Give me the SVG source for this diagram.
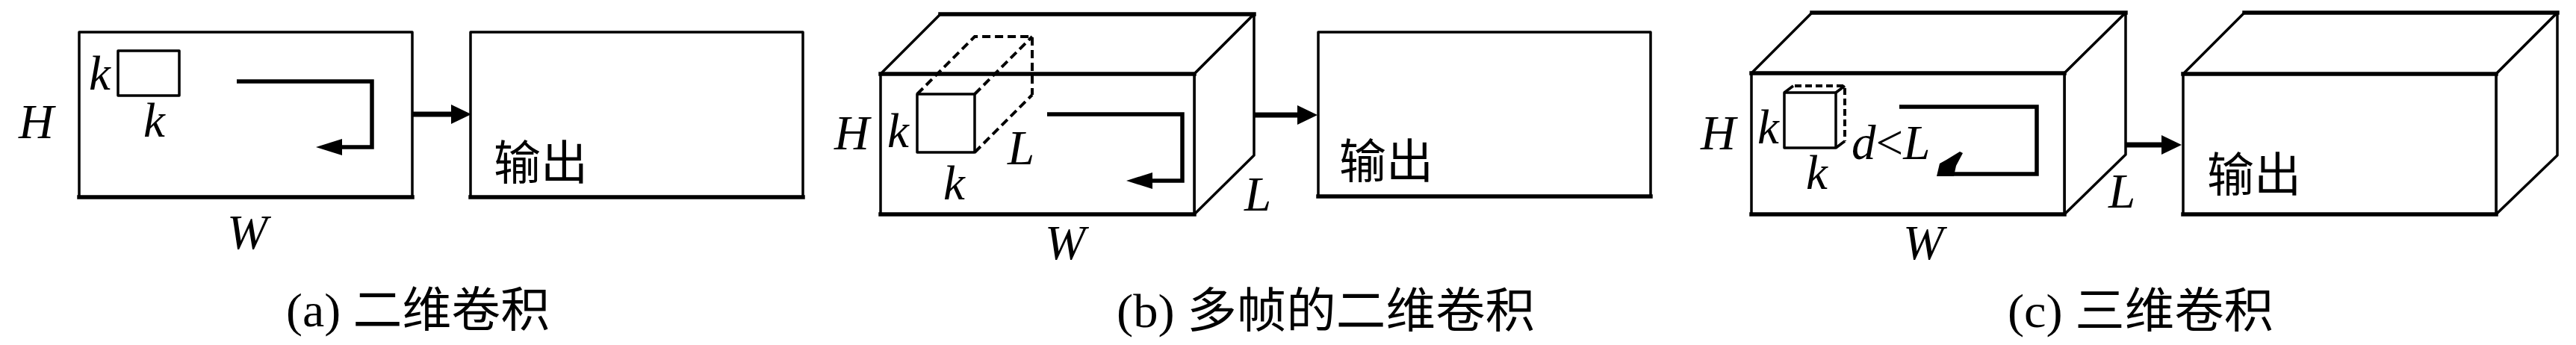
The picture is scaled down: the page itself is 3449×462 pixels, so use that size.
<svg xmlns="http://www.w3.org/2000/svg" width="3449" height="462" viewBox="0 0 3449 462">
<style>
.face{fill:#fff;stroke:#000;stroke-width:3.5;stroke-linejoin:round}
.ln{fill:none;stroke:#000;stroke-width:3.5;stroke-linecap:butt}
.thick{fill:none;stroke:#000;stroke-width:5.5;stroke-linecap:square}
.dash{fill:none;stroke:#000;stroke-width:4;stroke-dasharray:11 6}
.scan{fill:none;stroke:#000;stroke-width:5.5;stroke-linejoin:miter}
.conn{fill:none;stroke:#000;stroke-width:7}
.var{font-family:"Liberation Serif","Times New Roman",serif;font-style:italic;font-size:65px;fill:#000}
.up{font-family:"Liberation Serif","Times New Roman",serif;font-style:normal}
.cjk{font-family:"Noto Sans CJK SC","Noto Sans CJK JP",sans-serif;font-size:63px;fill:#000}
.cap{font-family:"Liberation Serif","Times New Roman",serif;font-size:64px;fill:#000}
.capc{font-family:"Noto Sans CJK SC","Noto Sans CJK JP",sans-serif}
</style>
<defs>
<marker id="connHead" markerUnits="userSpaceOnUse" viewBox="0 0 27 26" markerWidth="27" markerHeight="26" refX="19" refY="13" orient="auto"><path d="M0,0 L27,13 L0,26 z" fill="#000"/></marker>
<marker id="scanHead" markerUnits="userSpaceOnUse" viewBox="0 0 35 22" markerWidth="35" markerHeight="22" refX="25" refY="11" orient="auto"><path d="M0,0 L35,11 L0,22 z" fill="#000"/></marker>
</defs>

<!-- Panel (a) -->
<g id="input-a">
<rect class="face" x="106" y="43" width="446" height="221"/>
<line class="thick" x1="106" y1="264" x2="552" y2="264"/>
<rect class="face" x="158" y="68" width="82" height="60"/>
<path class="scan" d="M317,109 H498 V197 H433" marker-end="url(#scanHead)"/>
<text class="var" x="119" y="120">k</text>
<text class="var" x="192" y="183">k</text>
<text class="var" x="25" y="185">H</text>
<text class="var" x="304" y="333">W</text>
</g>
<g id="output-a">
<rect class="face" x="630" y="43" width="445" height="221"/>
<line class="thick" x1="630" y1="264" x2="1075" y2="264"/>
<text class="cjk" x="661" y="240">输出</text>
</g>
<text id="caption-a" class="cap" x="383" y="437" textLength="353" lengthAdjust="spacingAndGlyphs">(a) <tspan class="capc">二维卷积</tspan></text>

<!-- Panel (b) -->
<g id="input-b">
<polygon class="face" points="1179,99 1259,19 1679,19 1599,99"/>
<polygon class="face" points="1599,99 1679,19 1679,208 1599,287"/>
<rect class="face" x="1179" y="99" width="420" height="188"/>
<line class="thick" x1="1259" y1="19" x2="1679" y2="19"/>
<line class="thick" x1="1179" y1="99" x2="1599" y2="99"/>
<line class="thick" x1="1179" y1="287" x2="1599" y2="287"/>
<rect class="face" x="1228" y="126" width="77" height="78"/>
<path class="dash" d="M1228,126 L1305,49 H1382 V127 M1305,126 L1382,49 M1305,204 L1382,127"/>
<path class="scan" d="M1402,153 H1583 V242 H1518" marker-end="url(#scanHead)"/>
<text class="var" x="1117" y="200">H</text>
<text class="var" x="1188" y="197">k</text>
<text class="var" x="1263" y="267">k</text>
<text class="var" x="1349" y="220">L</text>
<text class="var" x="1666" y="282">L</text>
<text class="var" x="1399" y="347">W</text>
</g>
<g id="output-b">
<rect class="face" x="1765" y="43" width="445" height="220"/>
<line class="thick" x1="1765" y1="263" x2="2210" y2="263"/>
<text class="cjk" x="1793" y="238">输出</text>
</g>
<text id="caption-b" class="cap" x="1495" y="438" textLength="560" lengthAdjust="spacingAndGlyphs">(b) <tspan class="capc">多帧的二维卷积</tspan></text>

<!-- Panel (c) -->
<g id="input-c">
<polygon class="face" points="2345,98 2426,17 2846,17 2764,98"/>
<polygon class="face" points="2764,98 2846,17 2846,207 2764,287"/>
<rect class="face" x="2345" y="98" width="419" height="189"/>
<line class="thick" x1="2426" y1="17" x2="2846" y2="17"/>
<line class="thick" x1="2345" y1="98" x2="2764" y2="98"/>
<line class="thick" x1="2345" y1="287" x2="2764" y2="287"/>
<rect class="face" x="2389" y="124" width="69" height="74"/>
<path class="ln" d="M2389,124 L2401,115 M2458,124 L2470,115 M2458,198 L2470,189"/>
<path class="dash" d="M2403,115 H2470 V189" style="stroke-dasharray:9 5"/>
<path class="scan" d="M2543,143 H2727 V233 H2605"/>
<polygon points="2593,236 2597,219 2606,214 2624,203 2628,205 2619,222 2616,236" fill="#000"/>
<text class="var" x="2277" y="200">H</text>
<text class="var" x="2353" y="192">k</text>
<text class="var" x="2418" y="253">k</text>
<text class="var" x="2479" y="213">d<tspan class="up">&lt;</tspan>L</text>
<text class="var" x="2823" y="278">L</text>
<text class="var" x="2548" y="347">W</text>
</g>
<g id="output-c">
<polygon class="face" points="2923,99 3005,17 3424,17 3342,99"/>
<polygon class="face" points="3342,99 3424,17 3424,208 3342,287"/>
<rect class="face" x="2923" y="99" width="419" height="188"/>
<line class="thick" x1="3005" y1="17" x2="3424" y2="17"/>
<line class="thick" x1="2923" y1="99" x2="3342" y2="99"/>
<line class="thick" x1="2923" y1="287" x2="3342" y2="287"/>
<text class="cjk" x="2955" y="256">输出</text>
</g>
<text id="caption-c" class="cap" x="2688" y="438" textLength="356" lengthAdjust="spacingAndGlyphs">(c) <tspan class="capc">三维卷积</tspan></text>

<!-- Connectors -->
<g id="connectors">
<line class="conn" x1="552" y1="153" x2="623" y2="153" marker-end="url(#connHead)"/>
<line class="conn" x1="1680" y1="154" x2="1756" y2="154" marker-end="url(#connHead)"/>
<line class="conn" x1="2847" y1="194" x2="2913" y2="194" marker-end="url(#connHead)"/>
</g>
</svg>
